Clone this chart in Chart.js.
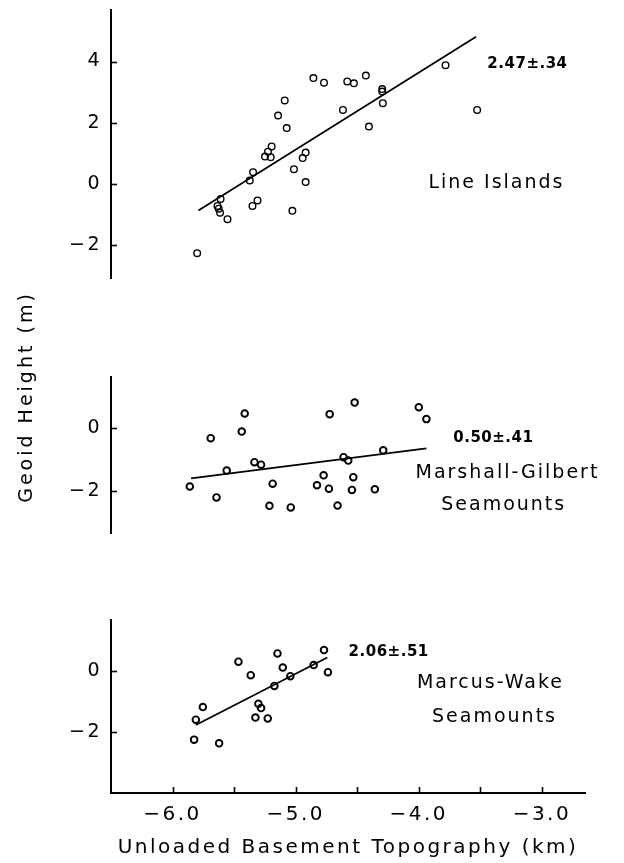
<!DOCTYPE html>
<html>
<head>
<meta charset="utf-8">
<script src="https://cdn.jsdelivr.net/npm/chart.js@4"></script>
<style>
  html, body { margin: 0; padding: 0; background: #fff; }
  #wrap { position: relative; width: 624px; height: 863px; }
  canvas { position: absolute; left: 0; }
</style>
</head>
<body>
<div id="wrap">
  <canvas id="lineCv" width="624" height="290" style="top:0px"></canvas>
  <canvas id="marshCv" width="624" height="280" style="top:280px"></canvas>
  <canvas id="marcusCv" width="624" height="263" style="top:600px"></canvas>
</div>
<script>
// Line Islands
const lineX = [-5.80, -5.61, -5.635, -5.625, -5.614, -5.554, -5.351, -5.31, -5.373, -5.346,
  -5.249, -5.203, -5.225, -5.195, -5.143, -5.089, -5.073, -5.014, -5.027, -4.943,
  -4.919, -4.919, -4.856, -4.770, -4.616, -4.581, -4.527, -4.43, -4.405, -4.297,
  -4.297, -4.292, -3.783, -3.526];
const lineY = [-2.25, -0.48, -0.71, -0.80, -0.93, -1.14, -0.71, -0.53, 0.12, 0.39,
  0.90, 0.88, 1.06, 1.23, 2.24, 2.73, 1.83, 0.49, -0.87, 0.85,
  1.03, 0.07, 3.46, 3.31, 2.42, 3.35, 3.29, 3.54, 1.88, 3.10,
  3.02, 2.64, 3.88, 2.42];
const lineFitX = [-5.79, -3.535];
const lineFitY = [-0.86, 4.81];

// Marshall-Gilbert Seamounts
const marshX = [-5.86, -5.69, -5.643, -5.56, -5.438, -5.414, -5.335, -5.281, -5.187, -5.213,
  -5.04, -4.827, -4.773, -4.73, -4.724, -4.66, -4.611, -4.573, -4.543, -4.532,
  -4.521, -4.357, -4.289, -4.0, -3.938];
const marshY = [-1.87, -0.32, -2.22, -1.36, -0.11, 0.47, -1.09, -1.17, -1.78, -2.49,
  -2.54, -1.83, -1.51, -1.94, 0.45, -2.48, -0.93, -1.04, -1.98, -1.57,
  0.82, -1.96, -0.71, 0.67, 0.29];
const marshFitX = [-5.85, -3.938];
const marshFitY = [-1.61, -0.65];

// Marcus-Wake Seamounts
const marcusX = [-5.825, -5.811, -5.754, -5.622, -5.465, -5.365, -5.327, -5.303, -5.281, -5.227,
  -5.173, -5.148, -5.105, -5.043, -4.854, -4.77, -4.738];
const marcusY = [-2.24, -1.59, -1.18, -2.36, 0.30, -0.14, -1.52, -1.07, -1.21, -1.55,
  -0.49, 0.57, 0.11, -0.17, 0.19, 0.68, -0.04];
const marcusFitX = [-5.811, -4.743];
const marcusFitY = [-1.76, 0.44];

const slopes = ['2.47±.34', '0.50±.41', '2.06±.51'];

const X_MIN = -6.5, X_MAX = -2.65;
const FONT = 'DejaVu Sans';

Chart.defaults.font.family = FONT;
Chart.defaults.color = '#000';

function pts(xs, ys) {
  return xs.map((x, i) => ({ x: x, y: ys[i] }));
}

function minus(v, digits) {
  const s = Math.abs(v).toFixed(digits);
  return v < 0 ? '\u2212' + s : s;
}

// tick marks point inward, plus the text written inside the panels
const panelDeco = {
  id: 'panelDeco',
  beforeDraw(chart) {
    chart.ctx.letterSpacing = '2.5px';
  },
  afterDraw(chart, args, opts) {
    const ctx = chart.ctx;
    const x = chart.scales.x, y = chart.scales.y;
    ctx.save();
    ctx.strokeStyle = '#000';
    ctx.lineWidth = 1.6;
    y.ticks.forEach(t => {
      const p = Math.round(y.getPixelForValue(t.value)) + 0.5;
      ctx.beginPath();
      ctx.moveTo(y.right, p);
      ctx.lineTo(y.right + 6, p);
      ctx.stroke();
    });
    if (x.options.display) {
      x.ticks.forEach(t => {
        if (t.value <= x.min) return;
        const p = Math.round(x.getPixelForValue(t.value)) + 0.5;
        ctx.beginPath();
        ctx.moveTo(p, x.top);
        ctx.lineTo(p, x.top - 6);
        ctx.stroke();
      });
    }
    ctx.fillStyle = '#000';
    ctx.textBaseline = 'middle';
    (opts.notes || []).forEach(n => {
      ctx.font = n.font;
      ctx.textAlign = n.align;
      ctx.letterSpacing = n.spacing;
      ctx.fillText(n.text, x.getPixelForValue(n.x), y.getPixelForValue(n.y));
    });
    if (opts.yTitle) {
      ctx.save();
      ctx.translate(opts.yTitle.x, opts.yTitle.y);
      ctx.rotate(-Math.PI / 2);
      ctx.font = '19px ' + FONT;
      ctx.textAlign = 'center';
      ctx.letterSpacing = '3px';
      ctx.fillText(opts.yTitle.text, 0, 0);
      ctx.restore();
    }
    ctx.restore();
  }
};

function makePanel(id, p) {
  return new Chart(document.getElementById(id), {
    type: 'scatter',
    data: {
      datasets: [
        {
          data: pts(p.xs, p.ys),
          pointStyle: 'circle',
          pointRadius: 3.3,
          pointBorderWidth: p.ring,
          pointBorderColor: '#000',
          pointBackgroundColor: 'rgba(0,0,0,0)'
        },
        {
          data: pts(p.fitX, p.fitY),
          showLine: true,
          borderColor: '#000',
          borderWidth: 1.7,
          pointRadius: 0
        }
      ]
    },
    options: {
      responsive: false,
      animation: false,
      events: [],
      layout: { padding: { left: 0, right: 39, top: p.padTop, bottom: p.padBottom } },
      plugins: {
        legend: { display: false },
        tooltip: { enabled: false },
        panelDeco: { notes: p.notes, yTitle: p.yTitle }
      },
      scales: {
        x: {
          type: 'linear',
          min: X_MIN,
          max: X_MAX,
          display: p.showX,
          grid: { display: false, drawTicks: false },
          border: { display: true, color: '#000', width: 2 },
          ticks: {
            stepSize: 0.5,
            includeBounds: false,
            autoSkip: false,
            maxRotation: 0,
            padding: 10,
            font: { size: 20 },
            callback: v => Number.isInteger(v) ? minus(v, 1) : ''
          },
          title: {
            display: true,
            text: 'Unloaded Basement Topography (km)',
            font: { size: 20 },
            padding: { top: 4, bottom: 3 }
          },
          afterFit: s => {
            s.height = s.options.display ? 70 : 0;
            s.paddingLeft = 0;
            s.paddingRight = 0;
          }
        },
        y: {
          type: 'linear',
          min: p.yMin,
          max: p.yMax,
          grid: { display: false, drawTicks: false },
          border: { display: true, color: '#000', width: 2 },
          ticks: {
            stepSize: 2,
            includeBounds: false,
            padding: 9,
            font: { size: 19 },
            callback: v => minus(v, 0)
          },
          afterFit: s => { s.width = 111; s.paddingTop = 0; s.paddingBottom = 0; }
        }
      }
    },
    plugins: [panelDeco]
  });
}

const bold = 'bold 15px ' + FONT;
const plain = '19px ' + FONT;

makePanel('lineCv', {
  xs: lineX, ys: lineY, fitX: lineFitX, fitY: lineFitY, ring: 1.4,
  yMin: -3.06, yMax: 5.68, padTop: 10, padBottom: 12, showX: false,
  notes: [
    { text: slopes[0], x: -3.443, y: 3.92, font: bold, align: 'left', spacing: '0.5px' },
    { text: 'Line Islands', x: -3.369, y: 0.04, font: plain, align: 'center', spacing: '2px' }
  ]
});

makePanel('marshCv', {
  xs: marshX, ys: marshY, fitX: marshFitX, fitY: marshFitY, ring: 1.9,
  yMin: -3.36, yMax: 1.64, padTop: 97, padBottom: 27, showX: false,
  notes: [
    { text: slopes[1], x: -3.72, y: -0.31, font: bold, align: 'left', spacing: '0.5px' },
    { text: 'Marshall-Gilbert', x: -3.28, y: -1.43, font: plain, align: 'center', spacing: '2px' },
    { text: 'Seamounts', x: -3.31, y: -2.46, font: plain, align: 'center', spacing: '2px' }
  ],
  yTitle: { text: 'Geoid Height (m)', x: 27, y: 117 }
});

makePanel('marcusCv', {
  xs: marcusX, ys: marcusY, fitX: marcusFitX, fitY: marcusFitY, ring: 1.9,
  yMin: -3.98, yMax: 1.66, padTop: 20, padBottom: 0, showX: true,
  notes: [
    { text: slopes[2], x: -4.57, y: 0.61, font: bold, align: 'left', spacing: '0.5px' },
    { text: 'Marcus-Wake', x: -3.418, y: -0.40, font: plain, align: 'center', spacing: '2px' },
    { text: 'Seamounts', x: -3.385, y: -1.49, font: plain, align: 'center', spacing: '2px' }
  ]
});
</script>
</body>
</html>
